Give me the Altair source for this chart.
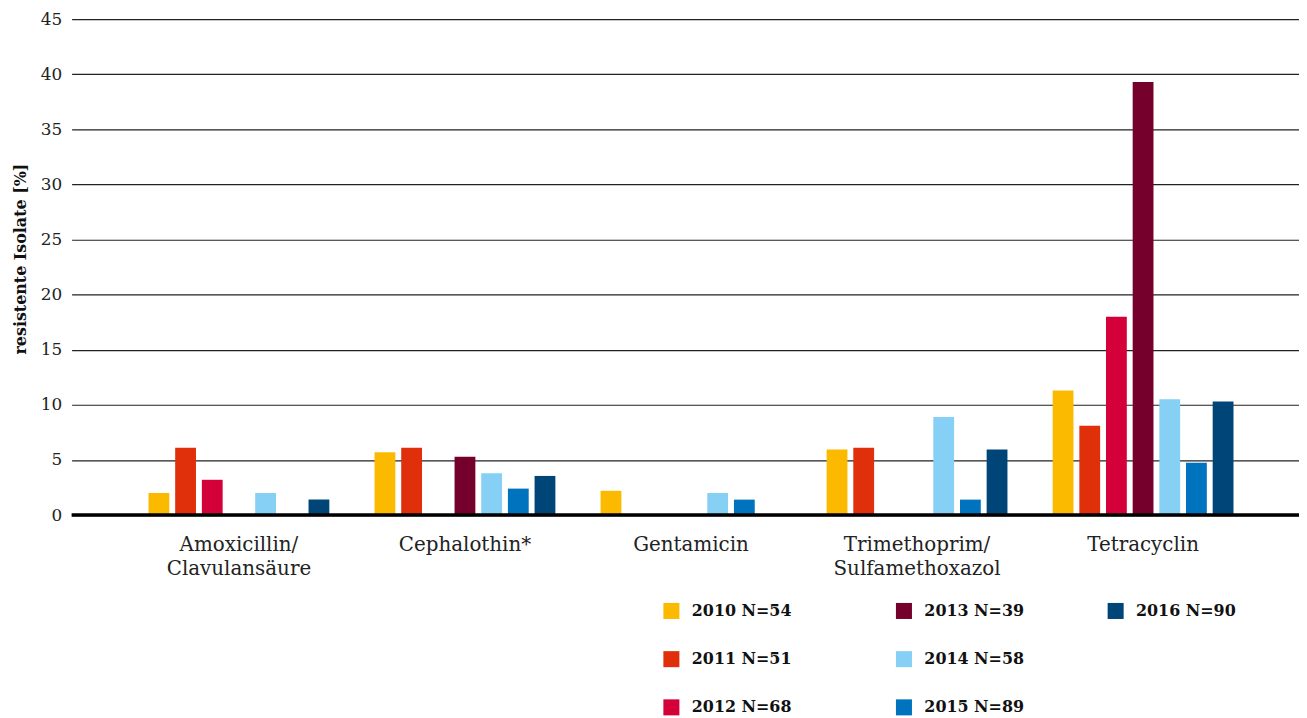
import altair as alt
import pandas as pd

categories = [
    "Amoxicillin/\nClavulansäure",
    "Cephalothin*",
    "Gentamicin",
    "Trimethoprim/\nSulfamethoxazol",
    "Tetracyclin",
]
series = ["2010 N=54", "2011 N=51", "2012 N=68", "2013 N=39", "2014 N=58", "2015 N=89", "2016 N=90"]
colors = ["#FBBA00", "#DF300B", "#D3003A", "#74002B", "#86D0F5", "#0073BF", "#004578"]

v2010 = [2.0, 5.7, 2.2, 5.95, 11.3]
v2011 = [6.1, 6.1, 0, 6.1, 8.1]
v2012 = [3.2, 0, 0, 0, 18.0]
v2013 = [0, 5.3, 0, 0, 39.3]
v2014 = [2.0, 3.8, 2.0, 8.9, 10.5]
v2015 = [0, 2.4, 1.4, 1.4, 4.75]
v2016 = [1.4, 3.55, 0, 5.95, 10.3]
values = [v2010, v2011, v2012, v2013, v2014, v2015, v2016]

rows = []
for s, vals in zip(series, values):
    for c, v in zip(categories, vals):
        rows.append({"category": c, "series": s, "value": v})
df = pd.DataFrame(rows)

FONT = "DejaVu Serif"

x_enc = alt.X(
    "category:N",
    sort=categories,
    scale=alt.Scale(paddingInner=0.2, paddingOuter=0.315, align=0.54),
    axis=alt.Axis(
        title=None,
        labelExpr="split(datum.label, '\\n')",
        labelFont=FONT,
        labelFontSize=20,
        labelLineHeight=24,
        labelColor="#222222",
        labelAngle=0,
        labelPadding=20,
        ticks=False,
        domain=False,
    ),
)
y_enc = alt.Y(
    "value:Q",
    scale=alt.Scale(domain=[0, 45], nice=False),
    axis=alt.Axis(
        values=list(range(0, 50, 5)),
        title="resistente Isolate [%]",
        titleFont=FONT,
        titleFontSize=16,
        titleFontWeight="bold",
        titleColor="#111111",
        titlePadding=12,
        titleY=241,
        labelFont=FONT,
        labelFontSize=17,
        labelColor="#222222",
        labelPadding=10,
        ticks=False,
        domain=False,
        gridColor="#222222",
        gridWidth=1.2,
    ),
)
xoff = alt.XOffset("series:N", scale=alt.Scale(domain=series, paddingInner=0.22))


def bar_layer(idx, lx, ly):
    sub = [series[i] for i in idx]
    cols = [colors[i] for i in idx]
    return alt.Chart(df[df["series"].isin(sub)]).mark_bar().encode(
        x=x_enc,
        xOffset=xoff,
        y=y_enc,
        color=alt.Color(
            "series:N",
            scale=alt.Scale(domain=sub, range=cols),
            legend=alt.Legend(
                title=None,
                orient="none",
                legendX=lx,
                legendY=ly,
                symbolType="square",
                symbolSize=260,
                symbolStrokeWidth=0,
                labelFont=FONT,
                labelFontSize=16,
                labelFontWeight="bold",
                labelColor="#111111",
                labelOffset=12,
                rowPadding=31.5,
            ),
        ),
    )


zero = alt.Chart(pd.DataFrame({"v": [0]})).mark_rule(color="black", strokeWidth=3.5).encode(y="v:Q")

chart = alt.layer(
    bar_layer([0, 1, 2], 595, 587),
    bar_layer([3, 4, 5], 829, 587),
    bar_layer([6], 1042, 587),
    zero,
).resolve_scale(color="independent").properties(
    width=1235,
    height=499,
    autosize=alt.AutoSizeParams(type="none"),
    padding={"left": 64, "top": 9, "right": 0, "bottom": 200},
).configure_view(stroke=None)

chart.save("out.html", embed_options={"renderer": "svg", "actions": False})
